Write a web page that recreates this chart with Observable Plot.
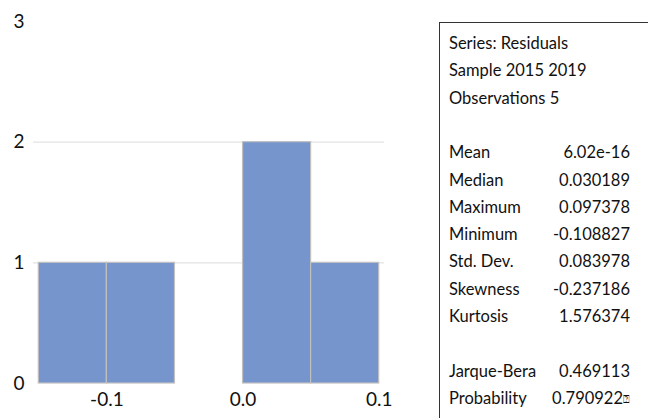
<!DOCTYPE html>
<html>
<head>
<meta charset="utf-8">
<script src="https://cdn.jsdelivr.net/npm/d3@7"></script>
<script src="https://cdn.jsdelivr.net/npm/@observablehq/plot@0.6"></script>
<style>
  html, body { margin: 0; padding: 0; background: #fff; width: 648px; height: 418px; overflow: hidden; }
  #wrap { position: relative; width: 648px; height: 418px; }
  #chart { position: absolute; left: 0; top: 0; }
  #stats {
    position: absolute; left: 439px; top: 22px; width: 230px; height: 420px;
    border: 1px solid #333; box-sizing: border-box;
    font-family: Lato, "Open Sans", sans-serif; font-size: 16.5px; color: #111;
  }
  #stats .row { position: absolute; left: 9px; white-space: nowrap; }
  #stats .val { position: absolute; right: 38px; white-space: nowrap; text-align: right; }
  #stats .q { font-family: "DejaVu Sans"; font-size: 11px; vertical-align: 1px; }
</style>
</head>
<body>
<div id="wrap">
  <div id="chart"></div>
  <div id="stats"></div>
</div>
<script>
// Histogram bins (residuals)
const binStart = [-0.15, -0.10, -0.05, 0.00, 0.05];
const binEnd   = [-0.10, -0.05, 0.00, 0.05, 0.10];
const counts   = [1, 1, 0, 2, 1];
const gridValues = [1, 2];
const xTicks = [-0.1, 0.0, 0.1];
const yTicks = [0, 1, 2, 3];

// Statistics panel
const headerLines = ["Series: Residuals", "Sample 2015 2019", "Observations 5"];
const statLabels = ["Mean", "Median", "Maximum", "Minimum", "Std. Dev.", "Skewness", "Kurtosis"];
const statValues = ["6.02e-16", "0.030189", "0.097378", "-0.108827", "0.083978", "-0.237186", "1.576374"];
const testLabels = ["Jarque-Bera", "Probability"];
const testValues = ["0.469113", "0.790922"];

const bins = binStart.map((s, i) => ({x1: s, x2: binEnd[i], count: counts[i]})).filter(d => d.count > 0);

const chart = Plot.plot({
  width: 648,
  height: 418,
  marginLeft: 33,
  marginRight: 264,
  marginTop: 21,
  marginBottom: 35,
  style: {fontFamily: "Lato, 'Open Sans', sans-serif", fontSize: "19px", color: "#111", background: "#fff"},
  x: {domain: [-0.1539, 0.1039], ticks: xTicks, tickFormat: d => d.toFixed(1), tickSize: 0, tickPadding: 9, label: null},
  y: {domain: [0, 3], ticks: yTicks, tickFormat: d => String(d), tickSize: 0, tickPadding: 9, label: null},
  marks: [
    Plot.ruleY(gridValues, {stroke: "#e3e3e3", strokeWidth: 1.3}),
    Plot.rectY(bins, {x1: "x1", x2: "x2", y: "count", fill: "#7595cc", stroke: "#c0c0c0", strokeWidth: 1.2})
  ]
});
document.getElementById("chart").appendChild(chart);

// Stats panel text
const panel = document.getElementById("stats");
const lineH = 27.3;
const firstY = 43 - 22 - 11;
function addRow(i, label, value, extra) {
  const y = firstY + i * lineH;
  const l = document.createElement("div");
  l.className = "row"; l.style.top = y + "px"; l.textContent = label;
  panel.appendChild(l);
  if (value !== undefined) {
    const v = document.createElement("div");
    v.className = "val"; v.style.top = y + "px"; v.textContent = value;
    if (extra) { const s = document.createElement("span"); s.className = "q"; s.textContent = extra; v.appendChild(s); }
    panel.appendChild(v);
  }
}
headerLines.forEach((t, i) => addRow(i, t));
statLabels.forEach((t, i) => addRow(4 + i, t, statValues[i]));
testLabels.forEach((t, i) => addRow(12 + i, t, testValues[i], i === 1 ? "⍰" : null));
</script>
</body>
</html>
